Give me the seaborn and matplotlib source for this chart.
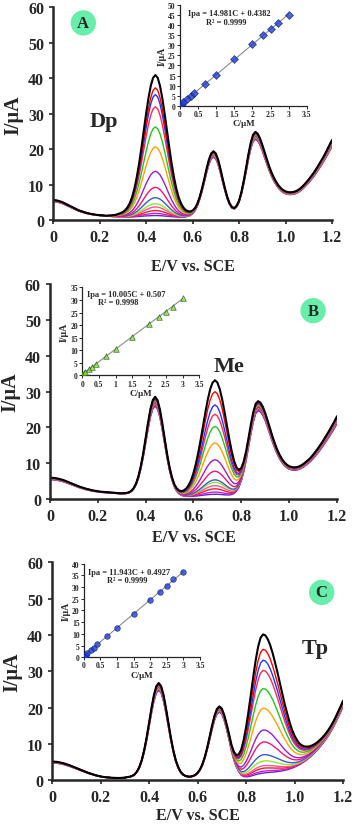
import numpy as np
import pandas as pd
import matplotlib
matplotlib.use("Agg")
import matplotlib.pyplot as plt
import seaborn as sns

sns.set_style("ticks")
plt.rcParams["font.family"] = ["Liberation Serif", "DejaVu Serif"]
plt.rcParams["font.weight"] = "bold"
plt.rcParams["axes.labelweight"] = "bold"

# potential grid (V vs SCE), 0.01 V steps
E = np.round(np.linspace(0, 1.2, 121), 2)

# line colours, highest curve first
colors = ["#000000", "#ff0000", "#1f35ff", "#ff2850", "#1ec81e", "#ffa000", "#9b1fd0",
          "#f0147a", "#3a5cc8", "#8ced2a", "#ff4fa8", "#f02020", "#d21ad2", "#5a2ad2"]

# ---- panel A: Dp varied --------------------------------------------------
base_A = [5.3, 5.2, 5.1, 4.9, 4.7, 4.4, 4.1, 3.8, 3.5, 3.2, 2.9, 2.6, 2.4, 2.2, 2.0,
          1.85, 1.7, 1.6, 1.5, 1.4, 1.35, 1.3, 1.25, 1.2, 1.15, 1.1, 1.05, 1.0, 1.0, 0.95, 0.9,
          0.9, 0.9, 0.9, 0.9, 0.9, 0.9, 0.9, 0.9, 0.9, 0.9,
          0.85, 0.85, 0.85, 0.85, 0.85, 0.85, 0.85, 0.85, 0.85, 0.85, 0.85, 0.85, 0.85, 0.85,
          0.87, 0.9, 0.97, 1.11, 1.38, 1.89, 2.7, 3.96, 5.75, 8.0, 10.6, 13.3, 15.65, 17.27, 17.85,
          17.27, 15.65, 13.3, 10.6, 8.1, 5.9, 4.3, 3.4, 3.2, 3.8, 5.1, 7.3, 10.2, 13.5, 17.0,
          20.0, 22.1, 22.85,
          22.4, 21.2, 19.5, 17.6, 15.7, 13.9, 12.3, 11.0, 9.9, 9.0, 8.3, 7.8, 7.5, 7.3, 7.25,
          7.3, 7.45, 7.7, 8.1, 8.6, 9.2, 9.9, 10.6, 11.4, 12.2, 13.1, 14.1, 15.1, 16.1, 17.2,
          18.4, 19.6, 20.8]
# Dp peak profile, E = 0.24 ... 0.64
shape_A = [0.003, 0.005, 0.008, 0.012, 0.018, 0.025, 0.034, 0.047, 0.067, 0.097, 0.140,
           0.201, 0.280, 0.376, 0.487, 0.607, 0.726, 0.835, 0.923, 0.980, 1.0,
           0.980, 0.923, 0.835, 0.726, 0.607, 0.487, 0.376, 0.280, 0.201, 0.140, 0.097,
           0.067, 0.047, 0.034, 0.025, 0.018, 0.012, 0.008, 0.005, 0.003]
shape_A_start = 0.24
heights_A = [40, 36.4, 34.5, 31.1, 25.4, 19.8, 12.9, 8.4, 5.5, 3.8, 2.9, 1.9, 1.1, 0.5]
spread_A = [0.09, 0.08, 0.075, 0.07, 0.06, 0.055, 0.05, 0.045, 0.04, 0.03, 0.025, 0.02, 0.01, 0.0]

# ---- panel B: Me varied --------------------------------------------------
base_B = [5.4, 5.35, 5.3, 5.2, 5.05, 4.9, 4.7, 4.45, 4.2, 3.95, 3.7, 3.45, 3.2, 3.0, 2.8,
          2.6, 2.45, 2.3, 2.15, 2.05, 1.95, 1.85, 1.8, 1.75, 1.7, 1.65, 1.6, 1.55, 1.5, 1.45, 1.43,
          1.45, 1.51, 1.68, 2.05, 2.74, 3.9, 5.75, 8.34, 11.6, 15.45, 19.34, 22.8, 25.1, 25.94,
          25.05, 22.65, 19.14, 15.2, 11.27, 7.94, 5.3, 3.37, 2.14, 1.38, 0.98, 0.77, 0.68, 0.63, 0.6,
          0.6, 0.6, 0.6, 0.6, 0.6, 0.6, 0.6, 0.6, 0.6, 0.6, 0.6, 0.6, 0.6,
          0.62, 0.67, 0.77, 0.96, 1.34, 2.06, 3.2, 5.0, 7.5, 10.7, 14.4, 18.2, 21.5, 23.8, 24.6,
          24.3, 23.3, 21.8, 19.9, 17.9, 15.9, 14.1, 12.5, 11.2, 10.1, 9.3, 8.7, 8.3, 8.1, 8.0,
          8.05, 8.2, 8.5, 8.9, 9.4, 9.9, 10.5, 11.2, 12.0, 12.8, 13.7, 14.6, 15.6, 16.6, 17.6,
          18.7, 19.8, 21.0]
# Me peak profile, E = 0.49 ... 0.89
shape_B = [0.003, 0.005, 0.008, 0.012, 0.018, 0.025, 0.034, 0.047, 0.067, 0.097, 0.140,
           0.201, 0.280, 0.376, 0.487, 0.607, 0.726, 0.835, 0.923, 0.980, 1.0,
           0.980, 0.923, 0.835, 0.726, 0.607, 0.487, 0.376, 0.280, 0.201, 0.140, 0.097,
           0.067, 0.047, 0.034, 0.025, 0.018, 0.012, 0.008, 0.005, 0.003]
shape_B_start = 0.49
heights_B = [32.5, 29.3, 25.6, 23.0, 19.6, 15.0, 10.3, 7.1, 4.7, 4.0, 3.1, 2.2, 1.3, 0.7]
spread_B = [0.1, 0.09, 0.08, 0.075, 0.07, 0.06, 0.055, 0.05, 0.04, 0.035, 0.03, 0.02, 0.01, 0.0]

# ---- panel C: Tp varied --------------------------------------------------
base_C = [4.8, 4.75, 4.7, 4.6, 4.45, 4.3, 4.1, 3.9, 3.65, 3.4, 3.15, 2.9, 2.65, 2.4, 2.15,
          1.9, 1.7, 1.5, 1.3, 1.15, 1.0, 0.9, 0.8, 0.75, 0.7, 0.65, 0.62, 0.6, 0.6, 0.65, 0.7,
          0.82, 0.92, 1.11, 1.5, 2.22, 3.42, 5.19, 7.71, 10.9, 14.6, 18.37, 21.7, 23.98, 24.8,
          23.98, 21.7, 18.37, 14.6, 10.9, 7.71, 5.19, 3.42, 2.22, 1.5,
          1.13, 0.97, 0.95, 1.09, 1.36, 1.9, 2.76, 4.09, 5.98, 8.38, 11.15, 13.98, 16.48, 18.19,
          18.8, 18.19, 16.48, 13.98, 11.15,
          8.0, 5.5, 3.6, 2.2, 1.2, 0.7, 0.5,
          0.4, 0.4, 0.45, 0.5, 0.55, 0.6, 0.7, 0.8, 0.9, 1.0, 1.15, 1.3, 1.5, 1.7, 1.9, 2.15,
          2.4, 2.7, 3.0, 3.35, 3.7, 4.1, 4.55, 5.0, 5.5, 6.05, 6.65, 7.3, 8.0, 8.75, 9.55, 10.4,
          11.3, 12.3, 13.4, 14.6, 15.9, 17.3, 18.7, 20.2]
# Tp peak profile, E = 0.69 ... 1.20
shape_C = [0.001, 0.003, 0.005, 0.01, 0.017, 0.029, 0.048, 0.078, 0.121, 0.181, 0.26, 0.356,
           0.468, 0.59, 0.713, 0.827, 0.919, 0.979, 1.0,
           0.99, 0.96, 0.915, 0.855, 0.785, 0.71, 0.63, 0.55, 0.47, 0.40, 0.33, 0.27, 0.22,
           0.18, 0.145, 0.12, 0.10, 0.085, 0.07, 0.06, 0.05, 0.042, 0.035, 0.029, 0.024, 0.02,
           0.016, 0.013, 0.01, 0.008, 0.006, 0.004, 0.002]
shape_C_start = 0.69
heights_C = [39.4, 35.3, 32.3, 29.5, 24.5, 19.1, 13.1, 9.8, 6.3, 4.6, 3.3, 2.6, 1.8, 1.3]
spread_C = [0.08, 0.075, 0.07, 0.065, 0.06, 0.055, 0.05, 0.045, 0.04, 0.03, 0.025, 0.02, 0.01, 0.0]

# ---- calibration insets --------------------------------------------------
conc = [0.01, 0.05, 0.1, 0.2, 0.3, 0.4, 0.7, 1.0, 1.5, 2.0, 2.3, 2.5, 2.7, 3.0]
ipa_A = [0.5, 1.1, 1.9, 3.3, 4.9, 6.4, 11.0, 15.2, 23.0, 30.4, 35.0, 38.0, 41.0, 45.2]
ipa_B = [0.6, 1.0, 1.5, 2.5, 3.5, 4.4, 7.6, 10.4, 15.3, 20.4, 23.3, 25.4, 27.4, 30.9]
ipa_C = [0.6, 1.1, 1.9, 3.0, 4.1, 5.7, 9.1, 12.5, 18.6, 24.4, 28.0, 30.4, 33.2, 36.5]


def curves_frame(base, shape, start, heights, spread):
    base = np.asarray(base)
    i0 = int(np.searchsorted(E, start - 1e-6))
    rows = []
    for k, (h, s) in enumerate(zip(heights, spread)):
        y = base * (1 + s)
        y[i0:i0 + len(shape)] += h * np.asarray(shape)
        rows.append(pd.DataFrame({"E": E, "I": y, "curve": k}))
    return pd.concat(rows, ignore_index=True)


def draw_main(ax, df, label, label_xy, badge, badge_xy, labelpad):
    colored = df[df["curve"] > 0]
    sns.lineplot(data=colored, x="E", y="I", hue="curve",
                 hue_order=list(range(len(colors) - 1, 0, -1)),
                 palette={k: colors[k] for k in range(1, len(colors))},
                 estimator=None, sort=False, legend=False, lw=1.0, ax=ax)
    sns.lineplot(data=df[df["curve"] == 0], x="E", y="I", color="black",
                 estimator=None, sort=False, lw=1.5, ax=ax)
    ax.set_xlim(0, 1.2)
    ax.set_ylim(0, 60)
    ax.set_xticks([0, 0.2, 0.4, 0.6, 0.8, 1.0, 1.2])
    ax.set_xticklabels(["0", "0.2", "0.4", "0.6", "0.8", "1.0", "1.2"])
    ax.set_yticks(range(0, 61, 10))
    ax.tick_params(labelsize=11.5, width=1.2, length=3)
    for t in ax.get_xticklabels() + ax.get_yticklabels():
        t.set_fontweight("bold")
    sns.despine(ax=ax)
    for sp in ["left", "bottom"]:
        ax.spines[sp].set_linewidth(1.8)
    ax.set_xlabel("E/V vs. SCE", fontsize=11.5, labelpad=labelpad)
    ax.set_ylabel("I/μA", fontsize=14.5, labelpad=3)
    ax.text(*label_xy, label, fontsize=16, fontweight="bold", ha="center", va="center")
    ax.text(*badge_xy, badge, fontsize=12, fontweight="bold", ha="center", va="center",
            bbox=dict(boxstyle="circle,pad=0.28", fc="#66eeaa", ec="none"))


def draw_inset(ax, y, ymax, ystep, marker, fc, ec, eq, r2, eq_xy, r2_xy):
    sns.regplot(x=conc, y=y, ci=None, marker=marker, ax=ax,
                scatter_kws=dict(s=16, color=fc, edgecolors=ec, linewidths=0.5, zorder=3),
                line_kws=dict(color="#8c8c8c", lw=0.8, zorder=2))
    ax.set_xlim(0, 3.5)
    ax.set_ylim(0, ymax)
    ax.set_xticks([0, 0.5, 1, 1.5, 2, 2.5, 3, 3.5])
    ax.set_xticklabels(["0", "0.5", "1", "1.5", "2", "2.5", "3", "3.5"])
    ax.set_yticks(np.arange(0, ymax + 1, ystep))
    ax.tick_params(labelsize=5.5, width=0.7, length=2, pad=1)
    for t in ax.get_xticklabels() + ax.get_yticklabels():
        t.set_fontweight("bold")
    sns.despine(ax=ax)
    for sp in ["left", "bottom"]:
        ax.spines[sp].set_linewidth(0.9)
    ax.set_facecolor("none")
    ax.set_xlabel("C/μM", fontsize=6.5, labelpad=1)
    ax.set_ylabel("I/μA", fontsize=7, labelpad=1)
    ax.text(*eq_xy, eq, fontsize=6, fontweight="bold", ha="left", va="center")
    ax.text(*r2_xy, r2, fontsize=6, fontweight="bold", ha="center", va="center")


fig = plt.figure(figsize=(3.54, 8.29), dpi=100)

axA = fig.add_axes([0.150, 0.733, 0.788, 0.257])
axB = fig.add_axes([0.141, 0.397, 0.811, 0.259])
axC = fig.add_axes([0.147, 0.0575, 0.822, 0.263])

draw_main(axA, curves_frame(base_A, shape_A, shape_A_start, heights_A, spread_A),
          "Dp", (0.22, 28), "A", (0.13, 55.6), 9)
draw_main(axB, curves_frame(base_B, shape_B, shape_B_start, heights_B, spread_B),
          "Me", (0.75, 37), "B", (1.10, 52.6), 4)
draw_main(axC, curves_frame(base_C, shape_C, shape_C_start, heights_C, spread_C),
          "Tp", (1.085, 36.3), "C", (1.112, 51.7), 1.5)

inA = fig.add_axes([0.508, 0.871, 0.359, 0.122])
inB = fig.add_axes([0.232, 0.546, 0.331, 0.106])
inC = fig.add_axes([0.237, 0.206, 0.328, 0.113])

draw_inset(inA, ipa_A, 50, 5, "D", "#1f3fd8", "#0a1660",
           "Ipa = 14.981C + 0.4382", "R² = 0.9999", (0.22, 46), (1.29, 41.7))
draw_inset(inB, ipa_B, 35, 5, "^", "#7ddc3a", "#1c5010",
           "Ipa = 10.005C + 0.507", "R² = 0.9998", (0.15, 32.6), (1.08, 29.4))
draw_inset(inC, ipa_C, 40, 5, "o", "#1f3fe0", "#0a1660",
           "Ipa = 11.943C + 0.4927", "R² = 0.9999", (0.12, 36.3), (1.29, 32.8))

fig.savefig("out.png", dpi=100)
